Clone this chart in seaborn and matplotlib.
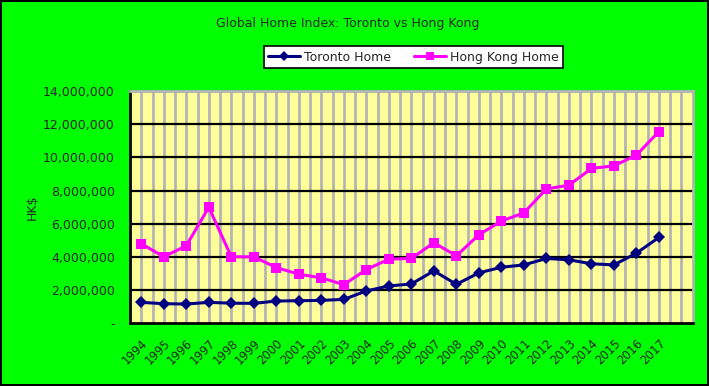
import numpy as np
import pandas as pd
import matplotlib
matplotlib.use('Agg')
import matplotlib.pyplot as plt
import seaborn as sb
from matplotlib.ticker import FuncFormatter

years = [str(y) for y in range(1994, 2018)]
toronto = [1.25, 1.17, 1.15, 1.25, 1.20, 1.19, 1.33, 1.35, 1.37, 1.43,
           1.94, 2.24, 2.36, 3.15, 2.34, 3.03, 3.37, 3.51, 3.90, 3.82,
           3.58, 3.51, 4.22, 5.17]
hong_kong = [4.79, 4.00, 4.67, 6.99, 4.00, 4.00, 3.35, 2.95, 2.73, 2.32,
             3.23, 3.86, 3.90, 4.85, 4.06, 5.33, 6.16, 6.65, 8.10, 8.32,
             9.33, 9.49, 10.14, 11.56]

df = pd.DataFrame({'pos': range(len(years)),
                   'Toronto Home': np.array(toronto) * 1e6,
                   'Hong Kong Home': np.array(hong_kong) * 1e6})

sb.set_style('white')
plt.rcParams['font.family'] = ['DejaVu Sans']

fig = plt.figure(figsize=(7.09, 3.86), dpi=100, facecolor='#00FF00',
                 edgecolor='black', linewidth=1.5)
ax = fig.add_axes([0.1834, 0.163, 0.7936, 0.601])
ax.set_facecolor('#FFFF99')

# gray vertical grid at every half category
for xv in np.arange(0, 24.5, 0.5):
    ax.axvline(xv, color='#B4B4B4', lw=2, zorder=0)
for yv in range(2000000, 14000001, 2000000):
    ax.axhline(yv, color='black', lw=1.6, zorder=1)

sb.lineplot(data=df, x='pos', y='Toronto Home', ax=ax, color='#000080',
            lw=2.2, marker='D', markersize=6.5, markeredgewidth=0,
            label='Toronto Home', zorder=3)
sb.lineplot(data=df, x='pos', y='Hong Kong Home', ax=ax, color='#FF00FF',
            lw=2.2, marker='s', markersize=7.5, markeredgewidth=0,
            label='Hong Kong Home', zorder=3)

ax.set_xlim(-0.5, 24.5)
ax.set_ylim(0, 14000000)
ax.set_yticks(range(0, 14000001, 2000000))
ax.yaxis.set_major_formatter(FuncFormatter(lambda v, p: '-' if v == 0 else f'{int(v):,}'))
ax.set_xticks(range(len(years)))
ax.set_xticklabels(years, rotation=45, ha='right', rotation_mode='anchor', fontsize=8.5)
ax.set_xticks(np.arange(0.5, 24.5, 1), minor=True)
ax.tick_params(axis='x', which='major', length=0, pad=10)
ax.tick_params(axis='x', which='minor', direction='in', length=4, width=1.5, color='black')
ax.tick_params(axis='y', length=0, labelsize=9, pad=11)
ax.set_xlabel('')
ax.set_ylabel('HK$', fontsize=9)
ax.yaxis.set_label_coords(-0.163, 0.5)

for s in ['left', 'bottom']:
    ax.spines[s].set_color('black')
    ax.spines[s].set_linewidth(2)
for s in ['top', 'right']:
    ax.spines[s].set_color('#B4B4B4')
    ax.spines[s].set_linewidth(2)

fig.suptitle('Global Home Index: Toronto vs Hong Kong', x=0.49, y=0.955, fontsize=9)
leg = ax.legend(loc='center', bbox_to_anchor=(0.583, 0.852), bbox_transform=fig.transFigure,
                ncol=2, fontsize=9, frameon=True, fancybox=False, edgecolor='black',
                framealpha=1, borderpad=0.35, handlelength=2.6, columnspacing=1.8,
                handletextpad=0.3, borderaxespad=0)
leg.get_frame().set_linewidth(1.2)
for h in leg.legend_handles:
    h.set_markersize(5.5)

fig.savefig('out.png', dpi=100, facecolor=fig.get_facecolor(), edgecolor='black')
